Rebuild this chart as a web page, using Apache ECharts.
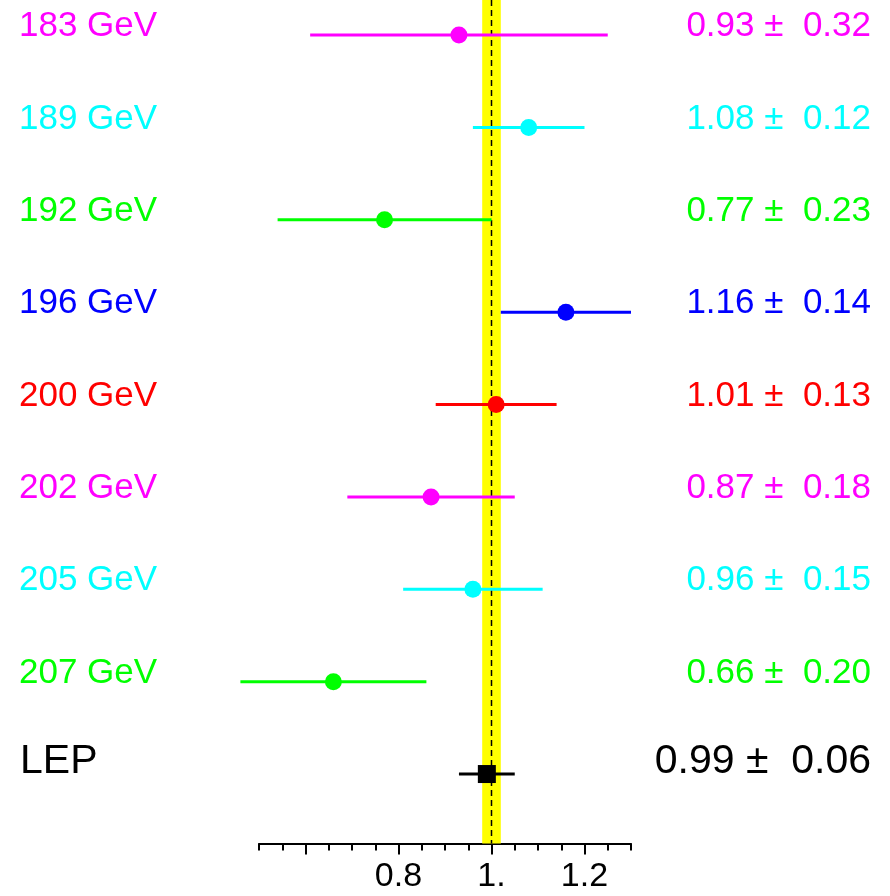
<!DOCTYPE html>
<html>
<head>
<meta charset="utf-8">
<script src="https://cdn.jsdelivr.net/npm/echarts@6/dist/echarts.min.js"></script>
<style>
  html, body { margin: 0; padding: 0; background: #fff; }
  #chart { width: 890px; height: 896px; }
</style>
</head>
<body>
<div id="chart"></div>
<script>
// rows, top to bottom
const rowLabels = ['183 GeV', '189 GeV', '192 GeV', '196 GeV', '200 GeV', '202 GeV', '205 GeV', '207 GeV', 'LEP'];
const ratios = [0.93, 1.08, 0.77, 1.16, 1.01, 0.87, 0.96, 0.66, 0.99];
const errors = [0.32, 0.12, 0.23, 0.14, 0.13, 0.18, 0.15, 0.20, 0.06];
const rowColors = ['#ff00ff', '#00ffff', '#00ff00', '#0000ff', '#ff0000', '#ff00ff', '#00ffff', '#00ff00', '#000000'];
// theory band
const bandCenter = 1.0;
const bandHalfWidth = 0.02;
// axis ticks
const majorTicks = [0.6, 0.8, 1.0, 1.2];
const tickLabels = [0.8, 1.0, 1.2];

const FONT = "'Liberation Sans', Arial, Helvetica, sans-serif";
const LAST = rowLabels.length - 1;

const chart = echarts.init(document.getElementById('chart'));

const pointData = ratios.map((v, i) => [v, i, errors[i]]);
const labelData = rowLabels.map((l, i) => [ratios[i], i]);

const gridBox = { left: 259, right: 259, top: 0, bottom: 52.5 };
const yBase = { type: 'value', inverse: true, min: -0.379, max: 8.752, show: false };

const option = {
  animation: false,
  // two identical grids so both x axes sit at the bottom (minor and major ticks)
  grid: [Object.assign({}, gridBox), Object.assign({}, gridBox)],
  xAxis: [
    {
      gridIndex: 0, type: 'value', min: 0.5, max: 1.3, interval: 0.05, position: 'bottom',
      axisLine: { show: true, onZero: false, lineStyle: { color: '#000', width: 2 } },
      axisTick: { show: true, length: 7, lineStyle: { color: '#000', width: 2 } },
      axisLabel: { show: false },
      splitLine: { show: false }
    },
    {
      gridIndex: 1, type: 'value', min: 0.5, max: 1.3, position: 'bottom',
      axisLine: { show: false, onZero: false },
      axisTick: { show: true, length: 11, customValues: majorTicks, lineStyle: { color: '#000', width: 2 } },
      axisLabel: {
        show: true, customValues: tickLabels, margin: 16,
        fontFamily: FONT, fontSize: 34, color: '#000',
        formatter: v => (Math.abs(v - 1) < 1e-9 ? '1.' : v.toFixed(1))
      },
      splitLine: { show: false }
    }
  ],
  yAxis: [Object.assign({ gridIndex: 0 }, yBase), Object.assign({ gridIndex: 1 }, yBase)],
  series: [
    {
      // yellow band + dashed line
      type: 'custom',
      data: [[bandCenter, bandHalfWidth]],
      renderItem: (params, api) => {
        const cs = params.coordSys;
        const c = api.value(0), h = api.value(1);
        const xl = api.coord([c - h, 0])[0];
        const xr = api.coord([c + h, 0])[0];
        const xc = api.coord([c, 0])[0];
        return {
          type: 'group',
          children: [
            { type: 'rect', shape: { x: xl, y: cs.y, width: xr - xl, height: cs.height }, style: { fill: '#ffff00' } },
            { type: 'line', shape: { x1: xc, y1: cs.y, x2: xc, y2: cs.y + cs.height },
              style: { stroke: '#000', lineWidth: 1.5, lineDash: [6, 4] } }
          ]
        };
      }
    },
    {
      // measurements with error bars
      type: 'custom',
      data: pointData,
      renderItem: (params, api) => {
        const v = api.value(0), i = api.value(1), e = api.value(2);
        const col = rowColors[i];
        const p = api.coord([v, i]);
        const lo = api.coord([v - e, i]);
        const hi = api.coord([v + e, i]);
        const marker = i === LAST
          ? { type: 'rect', shape: { x: p[0] - 9, y: p[1] - 9, width: 18, height: 18 }, style: { fill: col } }
          : { type: 'circle', shape: { cx: p[0], cy: p[1], r: 8.5 }, style: { fill: col } };
        return {
          type: 'group',
          children: [
            { type: 'line', shape: { x1: lo[0], y1: p[1], x2: hi[0], y2: p[1] }, style: { stroke: col, lineWidth: 3 } },
            marker
          ]
        };
      }
    },
    {
      // row labels and values
      type: 'custom',
      data: labelData,
      renderItem: (params, api) => {
        const i = api.value(1);
        const big = i === LAST;
        const y = api.coord([1, i])[1] - (big ? 12 : 8.5);
        const font = (big ? '41px ' : '35px ') + FONT;
        const col = rowColors[i];
        const txt = ratios[i].toFixed(2) + ' \u00b1  ' + errors[i].toFixed(2);
        return {
          type: 'group',
          children: [
            { type: 'text', x: big ? 20 : 19, y: y,
              style: { text: rowLabels[i], fill: col, font: font, textAlign: 'left', textVerticalAlign: 'middle' } },
            { type: 'text', x: 871, y: y,
              style: { text: txt, fill: col, font: font, textAlign: 'right', textVerticalAlign: 'middle' } }
          ]
        };
      }
    }
  ]
};

chart.setOption(option);
</script>
</body>
</html>
